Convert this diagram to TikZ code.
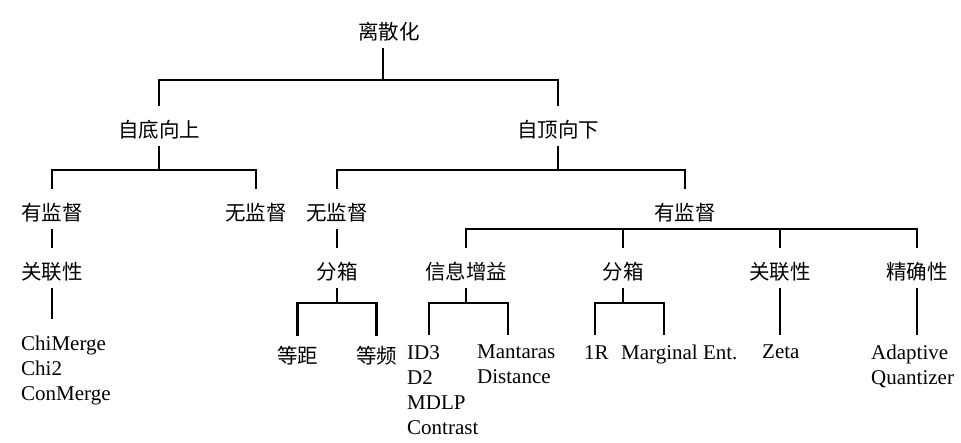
\documentclass[tikz,border=0pt]{standalone}
\usepackage{fontspec}
\setmainfont{Liberation Serif}
\newfontfamily\cjk{Noto Sans CJK SC}
\begin{document}
\begin{tikzpicture}[x=1pt,y=-1pt,
  branch/.style={line width=2.2pt},
  cat/.style={font=\cjk\fontsize{20.5}{24}\selectfont, inner sep=0pt,
    text height=32pt, text depth=8pt, anchor=base},
  leaf/.style={font=\fontsize{21}{25}\selectfont, align=left,
    inner xsep=0pt, inner ysep=10pt, anchor=north west},
]
\useasboundingbox (0,0) rectangle (961,443);

% category labels
\node[cat] (root) at (389,40)  {离散化};
\node[cat] (bu)   at (159,138) {自底向上};
\node[cat] (td)   at (558,138) {自顶向下};
\node[cat] (sup1) at (52,221)  {有监督};
\node[cat] (uns1) at (256,221) {无监督};
\node[cat] (uns2) at (337,221) {无监督};
\node[cat] (sup2) at (685,221) {有监督};
\node[cat] (rel1) at (52,280)  {关联性};
\node[cat] (bin1) at (337,280) {分箱};
\node[cat] (gain) at (466,280) {信息增益};
\node[cat] (bin2) at (623,280) {分箱};
\node[cat] (rel2) at (780,280) {关联性};
\node[cat] (acc)  at (917,280) {精确性};
\node[cat, text height=27pt] (eqw) at (297.5,363) {等距};
\node[cat, text height=27pt] (eqf) at (376.5,363) {等频};

% method lists
\node[leaf, inner ysep=17pt] (chi) at (21,319) {ChiMerge\\Chi2\\ConMerge};
\node[leaf] (id)   at (407,335) {ID3\\D2\\MDLP\\Contrast};
\node[leaf] (man)  at (477,335) {Mantaras\\Distance};
\node[leaf] (one)  at (584,335) {1R};
\node[leaf] (marg) at (621,335) {Marginal Ent.};
\node[leaf] (zeta) at (762,335) {Zeta};
\node[leaf] (aq)   at (871,335) {Adaptive\\Quantizer};

% junction points of the forks
\coordinate (j0) at (383,80);
\coordinate (j1) at (159,170);
\coordinate (j2) at (558,170);
\coordinate (j3) at (685,229);
\coordinate (j4) at (337,303);
\coordinate (j5) at (466,303);
\coordinate (j6) at (623,303);
\coordinate (dA) at (429,303);
\coordinate (dB) at (508,303);
\coordinate (dC) at (595,303);
\coordinate (dD) at (664,303);

% tree
\draw[branch] (j0 |- root.south) -- (j0);
\draw[branch] (bu.north) |- (j0) -| (td.north);

\draw[branch] (bu.south) -- (j1);
\draw[branch] (sup1.north) |- (j1) -| (uns1.north);

\draw[branch] (td.south) -- (j2);
\draw[branch] (uns2.north) |- (j2) -| (sup2.north);

\draw[branch] (sup1.south) -- (rel1.north);
\draw[branch] (rel1.south) -- (rel1.south |- chi.north);

\draw[branch] (uns2.south) -- (bin1.north);
\draw[branch] (bin1.south) -- (j4);
\draw[branch] (eqw.north) |- (j4) -| (eqf.north);

\draw[branch] (gain.north) |- (j3) -| (acc.north);
\draw[branch] (bin2.north) -- (bin2.north |- j3);
\draw[branch] (rel2.north) -- (rel2.north |- j3);

\draw[branch] (gain.south) -- (j5);
\draw[branch] (id.north -| dA) -- (dA) -- (dB) -- (man.north -| dB);

\draw[branch] (bin2.south) -- (j6);
\draw[branch] (one.north -| dC) -- (dC) -- (dD) -- (marg.north -| dD);

\draw[branch] (rel2.south) -- (rel2.south |- zeta.north);
\draw[branch] (acc.south) -- (acc.south |- aq.north);
\end{tikzpicture}
\end{document}
